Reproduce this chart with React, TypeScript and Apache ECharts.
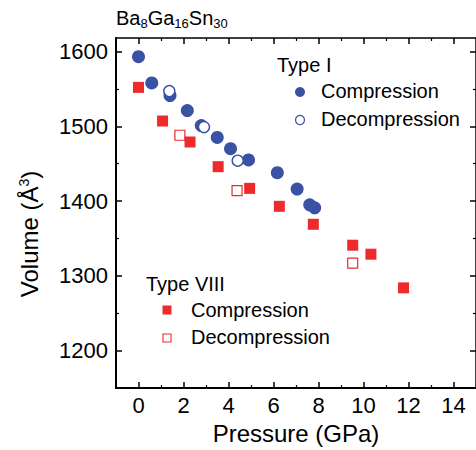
import React, { useEffect, useRef } from "react";
import * as echarts from "echarts";

const FONT = "'Liberation Sans', Arial, sans-serif";

// Type I clathrate
const pressureTypeICompression = [0, 0.59, 1.4, 2.17, 2.79, 3.5, 4.09, 4.89, 6.17, 7.05, 7.61, 7.83];
const volumeTypeICompression = [1593, 1558, 1541, 1521, 1501, 1485, 1470, 1455, 1438, 1416, 1395, 1391];
const pressureTypeIDecompression = [1.37, 2.91, 4.41];
const volumeTypeIDecompression = [1547, 1499, 1454];

// Type VIII clathrate
const pressureTypeVIIICompression = [0, 1.07, 2.29, 3.54, 4.94, 6.26, 7.77, 9.52, 10.33, 11.78];
const volumeTypeVIIICompression = [1552, 1507, 1479, 1446, 1417, 1393, 1369, 1341, 1329, 1284];
const pressureTypeVIIIDecompression = [1.84, 4.38, 9.52];
const volumeTypeVIIIDecompression = [1488, 1414, 1317];

// Axis ticks
const xMajorTicks = [0, 2, 4, 6, 8, 10, 12, 14];
const xMinorTicks = [1, 3, 5, 7, 9, 11, 13];
const yMajorTicks = [1200, 1300, 1400, 1500, 1600];
const yMinorTicks = [1250, 1350, 1450, 1550];

const X_MIN = -1;
const X_MAX = 15;
const Y_MIN = 1150;
const Y_MAX = 1618;

const BLUE = "#3A52A4";
const RED = "#EE2A2B";

const pairs = (xs: number[], ys: number[]) => xs.map((x, i) => [x, ys[i]]);

function tickAxis(
  kind: "x" | "y",
  position: string,
  values: number[],
  length: number,
  showLine: boolean,
  lineWidth: number,
  labels: boolean
) {
  return {
    type: "value",
    position,
    min: kind === "x" ? X_MIN : Y_MIN,
    max: kind === "x" ? X_MAX : Y_MAX,
    splitLine: { show: false },
    axisLine: { show: showLine, onZero: false, lineStyle: { color: "#000", width: lineWidth } },
    axisTick: {
      show: true,
      inside: true,
      length,
      customValues: values,
      lineStyle: { color: "#000", width: length > 4 ? 1.5 : 1.2 },
    },
    axisLabel: labels
      ? {
          show: true,
          customValues: values,
          formatter: (v: number) => String(v),
          fontSize: 22,
          fontFamily: FONT,
          color: "#000",
          margin: kind === "x" ? 6 : 8,
        }
      : { show: false },
  };
}

export default function App() {
  const ref = useRef<HTMLDivElement>(null);

  useEffect(() => {
    if (!ref.current) return;
    const chart = echarts.init(ref.current, undefined, { renderer: "svg" });

    const option = {
      animation: false,
      backgroundColor: "#fff",
      grid: { left: 116, right: -3, top: 38, bottom: 58 },
      xAxis: [
        {
          ...tickAxis("x", "bottom", xMajorTicks, 6, true, 2, true),
          name: "Pressure (GPa)",
          nameLocation: "middle",
          nameGap: 28,
          nameTextStyle: { fontSize: 24, fontFamily: FONT, color: "#000" },
        },
        tickAxis("x", "bottom", xMinorTicks, 3, false, 2, false),
        tickAxis("x", "top", xMajorTicks, 6, true, 1.5, false),
        tickAxis("x", "top", xMinorTicks, 3, false, 1.5, false),
      ],
      yAxis: [
        tickAxis("y", "left", yMajorTicks, 6, true, 2, true),
        tickAxis("y", "left", yMinorTicks, 3, false, 2, false),
        tickAxis("y", "right", yMajorTicks, 6, true, 1.5, false),
        tickAxis("y", "right", yMinorTicks, 3, false, 1.5, false),
      ],
      series: [
        {
          name: "Type I Compression",
          type: "scatter",
          xAxisIndex: 0,
          yAxisIndex: 0,
          symbol: "circle",
          symbolSize: 13,
          itemStyle: { color: BLUE, opacity: 1 },
          data: pairs(pressureTypeICompression, volumeTypeICompression),
        },
        {
          name: "Type I Decompression",
          type: "scatter",
          xAxisIndex: 0,
          yAxisIndex: 0,
          symbol: "circle",
          symbolSize: 11,
          itemStyle: { color: "#fff", borderColor: BLUE, borderWidth: 1.4, opacity: 1 },
          data: pairs(pressureTypeIDecompression, volumeTypeIDecompression),
        },
        {
          name: "Type VIII Decompression",
          type: "scatter",
          xAxisIndex: 0,
          yAxisIndex: 0,
          symbol: "rect",
          symbolSize: 10,
          itemStyle: { color: "#fff", borderColor: RED, borderWidth: 1.2, opacity: 1 },
          data: pairs(pressureTypeVIIIDecompression, volumeTypeVIIIDecompression),
        },
        {
          name: "Type VIII Compression",
          type: "scatter",
          xAxisIndex: 0,
          yAxisIndex: 0,
          symbol: "rect",
          symbolSize: 11,
          itemStyle: { color: RED, opacity: 1 },
          data: pairs(pressureTypeVIIICompression, volumeTypeVIIICompression),
        },
      ],
      graphic: [
        {
          type: "text",
          x: 116,
          y: 8,
          style: {
            text: "{m|Ba}{s|8}{m|Ga}{s|16}{m|Sn}{s|30}",
            fill: "#000",
            verticalAlign: "top",
            rich: {
              m: { fontSize: 20, fontFamily: FONT, fill: "#000", lineHeight: 20, verticalAlign: "top" },
              s: { fontSize: 13, fontFamily: FONT, fill: "#000", lineHeight: 22, verticalAlign: "bottom" },
            },
          },
        },
        {
          type: "text",
          x: 29,
          y: 234,
          rotation: Math.PI / 2,
          style: {
            text: "Volume (Å{sup|3})",
            fontSize: 24,
            fontFamily: FONT,
            fill: "#000",
            align: "center",
            verticalAlign: "middle",
            rich: {
              sup: { fontSize: 14, fontFamily: FONT, fill: "#000", verticalAlign: "top", lineHeight: 4 },
            },
          },
        },
        // Type I legend
        { type: "text", x: 277, y: 65, style: { text: "Type I", fontSize: 20, fontFamily: FONT, fill: "#000", verticalAlign: "middle" } },
        { type: "circle", shape: { cx: 300, cy: 92, r: 5 }, style: { fill: BLUE } },
        { type: "text", x: 321, y: 91, style: { text: "Compression", fontSize: 20, fontFamily: FONT, fill: "#000", verticalAlign: "middle" } },
        { type: "circle", shape: { cx: 300, cy: 120, r: 4.5 }, style: { fill: "#fff", stroke: BLUE, lineWidth: 1.2 } },
        { type: "text", x: 321, y: 119, style: { text: "Decompression", fontSize: 20, fontFamily: FONT, fill: "#000", verticalAlign: "middle" } },
        // Type VIII legend
        { type: "text", x: 146, y: 284, style: { text: "Type VIII", fontSize: 20, fontFamily: FONT, fill: "#000", verticalAlign: "middle" } },
        { type: "rect", shape: { x: 162.5, y: 305.5, width: 9, height: 9 }, style: { fill: RED } },
        { type: "text", x: 191, y: 310, style: { text: "Compression", fontSize: 20, fontFamily: FONT, fill: "#000", verticalAlign: "middle" } },
        { type: "rect", shape: { x: 163, y: 334, width: 8, height: 8 }, style: { fill: "#fff", stroke: RED, lineWidth: 1.1 } },
        { type: "text", x: 191, y: 337, style: { text: "Decompression", fontSize: 20, fontFamily: FONT, fill: "#000", verticalAlign: "middle" } },
      ],
    };

    chart.setOption(option as any);
    return () => chart.dispose();
  }, []);

  return (
    <div
      ref={ref}
      style={{ position: "fixed", left: 0, top: 0, width: 476, height: 450, background: "#fff" }}
    />
  );
}
